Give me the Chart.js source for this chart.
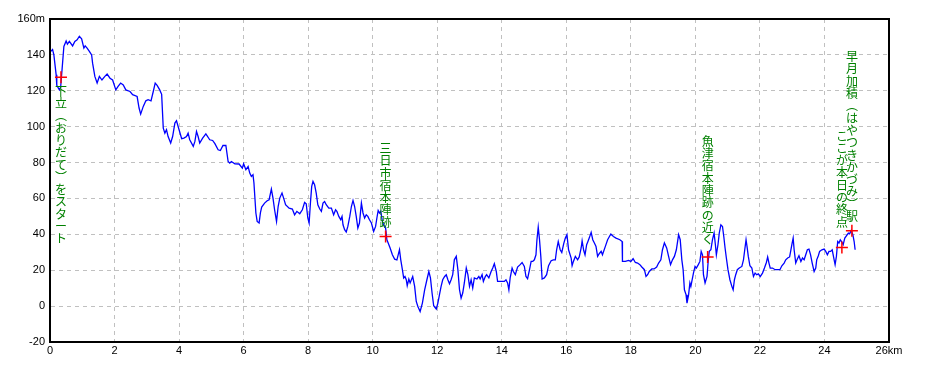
<!DOCTYPE html>
<html>
<head>
<meta charset="utf-8">
<script src="https://cdn.jsdelivr.net/npm/chart.js@4.4.1/dist/chart.umd.min.js"></script>
<style>
  html, body { margin: 0; padding: 0; background: #fff; }
  #wrap { width: 930px; height: 372px; }
</style>
</head>
<body>
<div id="wrap"><canvas id="profile"></canvas></div>
<script>
// elevation profile, distance in km / height in m
var distKm = [
  0.03, 0.08, 0.12, 0.19, 0.21, 0.29, 0.33, 0.37, 0.43, 0.50, 0.54, 0.60, 0.70, 0.77, 0.84, 0.91, 0.98,
  1.05, 1.09, 1.15, 1.22, 1.29, 1.32, 1.39, 1.46, 1.53, 1.61, 1.70, 1.77, 1.86, 1.94,
  2.04, 2.11, 2.19, 2.27, 2.35, 2.48, 2.56, 2.70, 2.76, 2.81, 2.89, 2.97,
  3.04, 3.13, 3.20, 3.26, 3.32, 3.40, 3.46, 3.51, 3.56, 3.61, 3.66, 3.74, 3.80, 3.87, 3.92,
  4.00, 4.08, 4.15, 4.23, 4.28, 4.33, 4.44, 4.49, 4.54, 4.59, 4.64, 4.73, 4.83, 4.95,
  5.04, 5.11, 5.21, 5.28, 5.36, 5.45, 5.52, 5.57, 5.62, 5.73, 5.86, 5.96,
  6.00, 6.07, 6.14, 6.19, 6.24, 6.29, 6.32, 6.38, 6.42, 6.48, 6.52, 6.56, 6.65, 6.73, 6.79, 6.86, 6.91, 6.96,
  7.02, 7.07, 7.12, 7.19, 7.24, 7.30, 7.41, 7.51, 7.58, 7.65, 7.74, 7.82, 7.89, 7.94, 7.99,
  8.03, 8.07, 8.11, 8.15, 8.20, 8.25, 8.30, 8.36, 8.41, 8.46, 8.51, 8.56, 8.64, 8.72, 8.79, 8.85, 8.89, 8.95,
  9.01, 9.05, 9.08, 9.13, 9.18, 9.23, 9.29, 9.34, 9.39, 9.44, 9.49, 9.54, 9.59, 9.65, 9.70, 9.75, 9.80, 9.85, 9.90, 9.96,
  10.03, 10.09, 10.13, 10.17, 10.21, 10.25, 10.30, 10.34, 10.40, 10.44, 10.48, 10.54, 10.61, 10.68, 10.75, 10.79, 10.83, 10.87, 10.92, 10.96,
  11.00, 11.04, 11.07, 11.12, 11.16, 11.24, 11.30, 11.35, 11.40, 11.47, 11.54, 11.61, 11.68, 11.74, 11.79, 11.84, 11.89, 11.97,
  12.02, 12.07, 12.12, 12.17, 12.23, 12.28, 12.33, 12.38, 12.43, 12.48, 12.53, 12.59, 12.64, 12.69, 12.74, 12.79, 12.84, 12.90, 12.95,
  13.00, 13.05, 13.10, 13.15, 13.23, 13.29, 13.33, 13.39, 13.43, 13.49, 13.53, 13.60, 13.67, 13.72, 13.77, 13.83, 13.87, 13.98,
  14.08, 14.13, 14.18, 14.22, 14.26, 14.32, 14.36, 14.42, 14.49, 14.57, 14.63, 14.70, 14.75, 14.80, 14.86, 14.91, 14.96,
  15.01, 15.06, 15.09, 15.13, 15.17, 15.21, 15.25, 15.32, 15.39, 15.45, 15.53, 15.60, 15.66, 15.70, 15.75, 15.81, 15.86, 15.92, 15.97,
  16.02, 16.07, 16.15, 16.18, 16.22, 16.28, 16.35, 16.40, 16.46, 16.49, 16.54, 16.58, 16.63, 16.67, 16.71, 16.77, 16.82, 16.87, 16.92, 16.97,
  17.02, 17.08, 17.12, 17.21, 17.28, 17.38, 17.46, 17.54, 17.66, 17.73, 17.74, 17.83, 17.93,
  18.00, 18.07, 18.14, 18.21, 18.28, 18.34, 18.42, 18.47, 18.52, 18.57, 18.65, 18.72, 18.80, 18.86, 18.93, 18.98,
  19.04, 19.11, 19.17, 19.23, 19.29, 19.35, 19.41, 19.48, 19.53, 19.58, 19.62, 19.66, 19.71, 19.74, 19.79, 19.83, 19.86, 19.89, 19.94, 19.99,
  20.03, 20.09, 20.14, 20.18, 20.22, 20.25, 20.30, 20.36, 20.40, 20.43, 20.48, 20.53, 20.58, 20.62, 20.65, 20.70, 20.74, 20.79, 20.84, 20.88, 20.92, 20.96,
  21.01, 21.07, 21.13, 21.17, 21.21, 21.25, 21.30, 21.36, 21.44, 21.49, 21.53, 21.57, 21.60, 21.64, 21.69, 21.75, 21.80, 21.85, 21.90, 21.95,
  22.01, 22.08, 22.14, 22.20, 22.24, 22.28, 22.32, 22.39, 22.47, 22.54, 22.62, 22.68, 22.75, 22.80, 22.86, 22.92, 22.96,
  23.00, 23.03, 23.06, 23.11, 23.16, 23.21, 23.27, 23.32, 23.37, 23.42, 23.47, 23.52, 23.57, 23.62, 23.68, 23.73, 23.76, 23.81, 23.85, 23.92, 23.99,
  24.04, 24.09, 24.14, 24.19, 24.24, 24.30, 24.33, 24.37, 24.41, 24.45, 24.49, 24.53, 24.58, 24.63, 24.68, 24.74, 24.78, 24.83, 24.88, 24.92, 24.95
];
var elevM = [
  142, 143, 140, 129, 123, 120.5, 122, 131, 144.7, 147.8, 146, 147.5, 145, 147.5, 148.4, 150.4, 149,
  143.8, 145, 143.8, 142, 140, 135.4, 128, 124.3, 128, 126, 128, 129.3, 127, 126,
  120.5, 122.4, 124.3, 123.3, 120.5, 119.6, 117.8, 116.8, 110.4, 107, 111.3, 114.4,
  115, 114.4, 119.6, 124.3, 123, 120.5, 118, 99.2, 96.4, 98.3, 94.5, 90.9, 94.5, 102, 103.3,
  98.3, 93.3, 93.6, 94.5, 96.4, 92.7, 89, 91.8, 97.3, 94.5, 90.9, 93.6, 96, 92.7,
  92.3, 90.5, 87.1, 86.7, 89.5, 89.5, 80.6, 79.7, 80.6, 79.3, 79.2, 76.9,
  79.3, 76, 77.8, 74.1, 72.3, 73.2, 68.6, 51.9, 47.2, 46.3, 51.9, 55.2, 57.4, 58.7, 59.3, 65.2, 60.2, 53.7,
  47.2, 55.5, 60.2, 63, 60.2, 56.5, 54.6, 54.1, 50.9, 52.8, 51.5, 53.7, 57.8, 57, 49.1,
  46.3, 57.4, 66.7, 69.5, 67.6, 63, 56.5, 54.1, 52.8, 57.4, 58.3, 56.5, 54.6, 54.6, 50.9, 53.7, 52.8, 50,
  48.1, 50, 45.3, 42.6, 41.3, 44.4, 50, 55.5, 58.9, 55.5, 50, 43.5, 46.3, 57.4, 51.9, 49.1, 50.9, 50, 48.1, 46.3,
  41.6, 44.4, 49.1, 53.3, 51.9, 52.8, 47.2, 45.3, 43.5, 37, 35.2, 32.4, 28.6, 26.2, 25.8, 28.6, 31.4, 25.8, 20.3, 15.7,
  16.5, 14.7, 11.4, 15.1, 12.9, 16.5, 11, 2.6, -0.2, -3, 1.7, 9.1, 14.7, 19.3, 15.7, 7.3, 0.2, -1.6,
  1.7, 6.4, 11, 14.7, 16.5, 17.5, 14.7, 12.5, 14.7, 17.5, 25.8, 27.7, 20.3, 9.1, 4.5, 7.3, 12.9, 21.2, 17.5,
  11, 14.7, 10.1, 15.7, 15.1, 16.5, 15.1, 17.5, 13.8, 16.5, 17.5, 15.7, 19.3, 21.2, 23.6, 19.3, 13.8, 13.8,
  13.8, 14.7, 12.9, 9.1, 15.7, 21.2, 19.3, 17.5, 21.8, 23.1, 24.3, 22.1, 16.5, 15.3, 20.3, 24.9, 24.9,
  25.8, 28.6, 37, 44, 37, 27.7, 15.1, 15.7, 17.5, 22.5, 25.3, 25.8, 25.8, 31.4, 36, 31.4, 29.9, 34.8, 37.9,
  39.8, 31.4, 26.8, 22.5, 24.9, 27.7, 25.8, 27.4, 32.4, 36.4, 31, 28.6, 34.2, 36, 37.9, 41.1, 37, 35.2, 33.3, 27.7,
  29.2, 30.5, 28.6, 33.3, 37, 40.2, 38.8, 37.9, 37, 36, 24.9, 24.9, 25.5,
  24.9, 26.4, 24.3, 24, 23.1, 21.8, 20.3, 16.5, 17.5, 19.3, 20.7, 20.7, 21.8, 24, 25.8, 31.4,
  35.2, 32.4, 27.7, 23.1, 25.8, 27.7, 31.4, 39.8, 37, 25.8, 20.3, 9.1, 6.4, 1.7, 6.4, 12.9, 11, 13.8, 18.4, 22.1,
  21.2, 23.1, 24.9, 30.5, 28.6, 17.5, 12.9, 16.5, 25.8, 30.5, 31.4, 37, 40.7, 34.2, 28.6, 34.2, 40.7, 45.3, 44.4, 38.8, 32.4, 26.8,
  20.3, 14.7, 11, 9.1, 14.7, 17.5, 20.3, 21.2, 22.1, 25.8, 31.4, 37, 33.3, 27.7, 22.5, 21.2, 16.5, 18.4, 17.5, 18,
  16.5, 18.4, 21.2, 24.3, 27.4, 24, 21.2, 21.2, 20.3, 20.3, 20.3, 22.5, 24, 25.8, 26.8, 27.4, 31.4,
  35.2, 37.9, 31.4, 24, 26.2, 28.1, 24.9, 26.8, 25.8, 28.6, 31.4, 31.8, 28.6, 24, 19.3, 21.2, 25.8, 28.1, 30.5, 31.4, 31.8,
  30.5, 28.6, 30.5, 30.5, 31.4, 25.8, 23.1, 27.7, 36, 35.2, 37, 36, 34.2, 37.9, 39.2, 40.7, 40.3, 42.2, 39.8, 36, 31.4
];

// marked places along the route
var markerKm = [0.34, 10.40, 20.38, 24.54, 24.85];
var markerM = [127.6, 38.8, 27.4, 32.7, 42.0];

// notes written vertically next to a marker
var noteText = ['下立(おりだて)をスタート', '三日市宿本陣跡', '魚津宿本陣跡の近く', 'ここが本日の終点', '早月加積(はやつきかづみ)駅'];
var noteMarker = [0, 1, 2, 3, 4];
var noteBelow = [true, false, false, false, false];
var noteGap = [8, 8, 11, 19, 8];

var profilePoints = distKm.map(function (d, i) { return {x: d, y: elevM[i]}; });
var markerPoints = markerKm.map(function (d, i) { return {x: d, y: markerM[i]}; });

var verticalNotes = {
  id: 'verticalNotes',
  afterDatasetsDraw: function (chart) {
    var ctx = chart.ctx;
    var xs = chart.scales.x, ys = chart.scales.y;
    var area = chart.chartArea;
    var pitch = 12.3;

    // black frame round the plot
    ctx.save();
    ctx.strokeStyle = '#000';
    ctx.lineWidth = 2;
    ctx.strokeRect(area.left, area.top, area.right - area.left, area.bottom - area.top);
    ctx.restore();

    ctx.save();
    ctx.fillStyle = '#008000';
    ctx.font = '12px "Noto Sans CJK JP"';
    ctx.textAlign = 'center';
    ctx.textBaseline = 'top';
    noteText.forEach(function (txt, i) {
      var chars = Array.from(txt.replace('(', '\uFE35').replace(')', '\uFE36'));
      var m = noteMarker[i];
      var px = xs.getPixelForValue(markerKm[m]);
      var py = ys.getPixelForValue(markerM[m]);
      var top = noteBelow[i] ? py + noteGap[i] : py - noteGap[i] - chars.length * pitch;
      chars.forEach(function (c, k) {
        ctx.fillText(c, px, top + k * pitch);
      });
    });
    ctx.restore();
  }
};

var tickFont = {family: '"Liberation Sans", Arial, sans-serif', size: 11};

var ctx = document.getElementById('profile').getContext('2d');
var profileChart = new Chart(ctx, {
  type: 'line',
  data: {
    datasets: [
      {
        type: 'scatter',
        data: markerPoints,
        pointStyle: 'cross',
        pointRadius: 6,
        pointBorderColor: '#ff0000',
        pointBorderWidth: 1.5,
        showLine: false
      },
      {
        data: profilePoints,
        borderColor: '#0000ff',
        borderWidth: 1.3,
        pointRadius: 0,
        tension: 0,
        fill: false
      }
    ]
  },
  options: {
    responsive: true,
    maintainAspectRatio: false,
    animation: false,
    layout: { padding: {top: 19, right: 41, bottom: 0, left: 0} },
    plugins: {
      legend: { display: false },
      tooltip: { enabled: false }
    },
    scales: {
      x: {
        type: 'linear',
        min: 0,
        max: 26,
        afterFit: function (scale) { scale.height = 30; },
        ticks: {
          stepSize: 2,
          color: '#000',
          font: tickFont,
          padding: 2,
          maxRotation: 0,
          callback: function (v) { return v === 26 ? '26km' : v; }
        },
        grid: { color: '#c0c0c0', drawTicks: false },
        border: { color: '#000', width: 2, dash: [4, 4] }
      },
      y: {
        min: -20,
        max: 160,
        afterFit: function (scale) { scale.width = 50; },
        ticks: {
          stepSize: 20,
          color: '#000',
          font: tickFont,
          padding: 5,
          callback: function (v) { return v === 160 ? '160m' : v; }
        },
        grid: { color: '#c0c0c0', drawTicks: false },
        border: { color: '#000', width: 2, dash: [4, 4] }
      }
    }
  },
  plugins: [verticalNotes]
});
</script>
</body>
</html>
